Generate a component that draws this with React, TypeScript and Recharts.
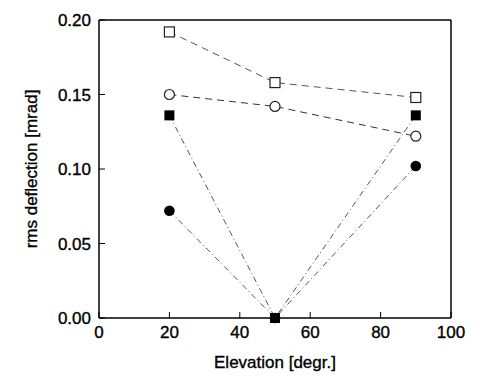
import React from 'react'
import { ComposedChart, Line, XAxis, YAxis } from 'recharts'

const elevation = [20, 50, 90]
const openSquare = [0.192, 0.158, 0.148]
const openCircle = [0.150, 0.142, 0.122]
const filledSquare = [0.136, 0, 0.136]
const filledCircle = [0.072, 0, 0.102]
const xTicks = [0, 20, 40, 60, 80, 100]
const yTicks = [0, 0.05, 0.1, 0.15, 0.2]

const data = elevation.map((e, i) => ({
    elevation: e,
    openSquare: openSquare[i],
    openCircle: openCircle[i],
    filledSquare: filledSquare[i],
    filledCircle: filledCircle[i],
}))

const font = "'Liberation Sans', Arial, sans-serif"
// a thin stroke makes the text a touch heavier, like the scanned original
const tickStyle = { fontSize: 17, fill: '#000', fontFamily: font, stroke: '#000', strokeWidth: 0.35 }

const OpenSquareDot = (p: any) => (
    <rect key={p.key} x={p.cx - 5} y={p.cy - 5} width={10} height={10} fill='#fff' stroke='#222' strokeWidth={1.2} />
)
const OpenCircleDot = (p: any) => (
    <circle key={p.key} cx={p.cx} cy={p.cy} r={5} fill='#fff' stroke='#222' strokeWidth={1.2} />
)
const FilledSquareDot = (p: any) => (
    <rect key={p.key} x={p.cx - 5} y={p.cy - 5} width={10} height={10} fill='#000' />
)
const FilledCircleDot = (p: any) => (
    <circle key={p.key} cx={p.cx} cy={p.cy} r={5.3} fill='#000' />
)

export default function App() {
    return (
        <div style={{ position: 'absolute', left: 0, top: 0, background: '#fff' }}>
            <ComposedChart width={491} height={378} data={data}
                margin={{ top: 10, right: 30, left: 25, bottom: 30 }}>
                <XAxis xAxisId='b' dataKey='elevation' type='number' domain={[0, 100]} ticks={xTicks}
                    height={30} tickSize={-6} tickMargin={14} tick={tickStyle}
                    axisLine={{ stroke: '#000', strokeWidth: 1.5 }} tickLine={{ stroke: '#000' }}
                    label={{
                        value: 'Elevation [degr.]', position: 'bottom', offset: 8,
                        style: { fontSize: 17, fill: '#000', fontFamily: font, stroke: '#000', strokeWidth: 0.35 },
                    }} />
                <XAxis xAxisId='t' orientation='top' type='number' domain={[0, 100]} ticks={xTicks}
                    height={10} tickSize={-6} tick={false}
                    axisLine={{ stroke: '#000', strokeWidth: 1.5 }} tickLine={{ stroke: '#000' }} />
                <YAxis yAxisId='l' type='number' domain={[0, 0.2]} ticks={yTicks} width={74}
                    tickSize={-6} tickMargin={14} tick={tickStyle}
                    tickFormatter={(v: number) => v.toFixed(2)}
                    axisLine={{ stroke: '#000', strokeWidth: 1.5 }} tickLine={{ stroke: '#000' }}
                    label={{
                        value: 'rms deflection [mrad]',
                        content: (p: any) => {
                            const vb = p.viewBox
                            const x = vb.x + 6
                            const y = vb.y + vb.height / 2
                            return (
                                <text x={x} y={y} transform={`rotate(-90 ${x} ${y})`} textAnchor='middle'
                                    dominantBaseline='central' fontSize={17} fill='#000' fontFamily={font}
                                    stroke='#000' strokeWidth={0.35}>
                                    rms deflection [mrad]
                                </text>
                            )
                        },
                    }} />
                <YAxis yAxisId='r' orientation='right' type='number' domain={[0, 0.2]} ticks={yTicks}
                    width={10} tickSize={-6} tick={false}
                    axisLine={{ stroke: '#000', strokeWidth: 1.5 }} tickLine={{ stroke: '#000' }} />
                <Line xAxisId='b' yAxisId='l' dataKey='openSquare' type='linear' stroke='#555'
                    strokeWidth={1} strokeDasharray='7 5' dot={OpenSquareDot} isAnimationActive={false} />
                <Line xAxisId='b' yAxisId='l' dataKey='openCircle' type='linear' stroke='#333'
                    strokeWidth={1} strokeDasharray='7 5' dot={OpenCircleDot} isAnimationActive={false} />
                <Line xAxisId='b' yAxisId='l' dataKey='filledCircle' type='linear' stroke='#555'
                    strokeWidth={1} strokeDasharray='6 3 1 3' dot={FilledCircleDot} isAnimationActive={false} />
                <Line xAxisId='b' yAxisId='l' dataKey='filledSquare' type='linear' stroke='#555'
                    strokeWidth={1} strokeDasharray='6 3 1 3' dot={FilledSquareDot} isAnimationActive={false} />
            </ComposedChart>
        </div>
    )
}
